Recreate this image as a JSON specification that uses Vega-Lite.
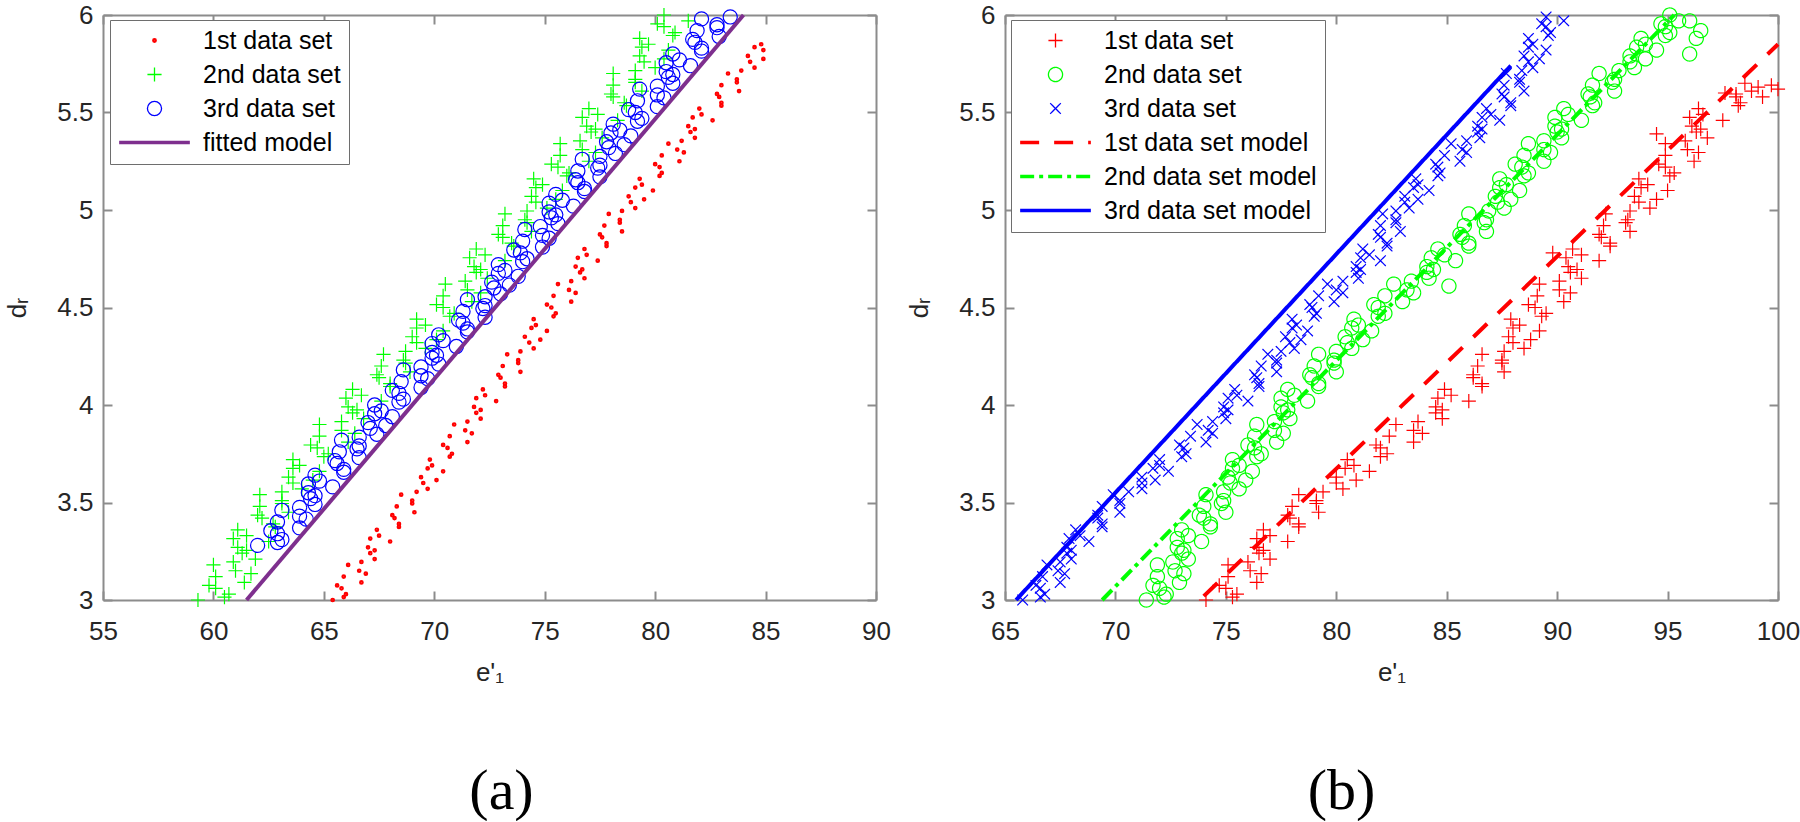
{
  "$schema": "https://vega.github.io/schema/vega-lite/v6.json",
  "background": "white",
  "padding": {"left": 4, "top": 2, "right": 0, "bottom": 0},
  "spacing": 129,
  "bounds": "flush",
  "resolve": {
    "scale": {"x": "independent", "y": "independent", "color": "independent", "shape": "independent", "strokeDash": "independent"},
    "legend": {"color": "independent", "shape": "independent", "strokeDash": "independent"}
  },
  "datasets": {
    "ap": [
      {"s":"1","x":65.4,"y":3.00},{"s":"1","x":66.0,"y":3.03},{"s":"1","x":65.8,"y":3.06},{"s":"1","x":66.7,"y":3.09},{"s":"1","x":65.9,"y":3.12},{"s":"1","x":66.6,"y":3.15},{"s":"1","x":66.1,"y":3.18},{"s":"1","x":67.3,"y":3.21},{"s":"1","x":67.1,"y":3.24},{"s":"1","x":67.0,"y":3.27},{"s":"1","x":68.0,"y":3.30},{"s":"1","x":67.5,"y":3.33},{"s":"1","x":67.4,"y":3.36},{"s":"1","x":68.4,"y":3.39},{"s":"1","x":68.2,"y":3.42},{"s":"1","x":69.1,"y":3.45},{"s":"1","x":68.3,"y":3.48},{"s":"1","x":69.0,"y":3.51},{"s":"1","x":68.5,"y":3.54},{"s":"1","x":69.7,"y":3.57},{"s":"1","x":69.5,"y":3.60},{"s":"1","x":69.4,"y":3.63},{"s":"1","x":70.4,"y":3.66},{"s":"1","x":69.9,"y":3.69},{"s":"1","x":69.8,"y":3.72},{"s":"1","x":70.8,"y":3.75},{"s":"1","x":70.6,"y":3.78},{"s":"1","x":71.5,"y":3.81},{"s":"1","x":70.7,"y":3.84},{"s":"1","x":71.4,"y":3.87},{"s":"1","x":70.9,"y":3.90},{"s":"1","x":72.1,"y":3.93},{"s":"1","x":71.9,"y":3.96},{"s":"1","x":71.8,"y":3.99},{"s":"1","x":72.8,"y":4.02},{"s":"1","x":72.3,"y":4.05},{"s":"1","x":72.2,"y":4.08},{"s":"1","x":73.2,"y":4.11},{"s":"1","x":73.0,"y":4.14},{"s":"1","x":73.9,"y":4.17},{"s":"1","x":73.1,"y":4.20},{"s":"1","x":73.8,"y":4.23},{"s":"1","x":73.3,"y":4.26},{"s":"1","x":74.5,"y":4.29},{"s":"1","x":74.3,"y":4.32},{"s":"1","x":74.1,"y":4.35},{"s":"1","x":75.1,"y":4.38},{"s":"1","x":74.6,"y":4.41},{"s":"1","x":74.5,"y":4.44},{"s":"1","x":75.5,"y":4.47},{"s":"1","x":75.3,"y":4.50},{"s":"1","x":76.2,"y":4.53},{"s":"1","x":75.4,"y":4.56},{"s":"1","x":76.1,"y":4.59},{"s":"1","x":75.6,"y":4.62},{"s":"1","x":76.8,"y":4.65},{"s":"1","x":76.6,"y":4.68},{"s":"1","x":76.4,"y":4.71},{"s":"1","x":77.4,"y":4.74},{"s":"1","x":76.9,"y":4.77},{"s":"1","x":76.8,"y":4.80},{"s":"1","x":77.8,"y":4.83},{"s":"1","x":77.6,"y":4.86},{"s":"1","x":78.5,"y":4.89},{"s":"1","x":77.7,"y":4.92},{"s":"1","x":78.4,"y":4.95},{"s":"1","x":77.9,"y":4.98},{"s":"1","x":79.1,"y":5.01},{"s":"1","x":78.9,"y":5.04},{"s":"1","x":78.8,"y":5.07},{"s":"1","x":79.9,"y":5.10},{"s":"1","x":79.4,"y":5.13},{"s":"1","x":79.3,"y":5.16},{"s":"1","x":80.3,"y":5.19},{"s":"1","x":80.2,"y":5.22},{"s":"1","x":81.1,"y":5.25},{"s":"1","x":80.3,"y":5.28},{"s":"1","x":81.0,"y":5.31},{"s":"1","x":80.6,"y":5.34},{"s":"1","x":81.8,"y":5.37},{"s":"1","x":81.6,"y":5.40},{"s":"1","x":81.5,"y":5.43},{"s":"1","x":82.6,"y":5.46},{"s":"1","x":82.1,"y":5.49},{"s":"1","x":82.0,"y":5.52},{"s":"1","x":83.0,"y":5.55},{"s":"1","x":82.9,"y":5.58},{"s":"1","x":83.8,"y":5.61},{"s":"1","x":83.0,"y":5.64},{"s":"1","x":83.7,"y":5.67},{"s":"1","x":83.3,"y":5.70},{"s":"1","x":84.5,"y":5.73},{"s":"1","x":84.3,"y":5.76},{"s":"1","x":84.2,"y":5.79},{"s":"1","x":84.9,"y":5.82},{"s":"1","x":84.8,"y":5.85},
      {"s":"1","x":65.9,"y":3.015},{"s":"1","x":65.6,"y":3.075},{"s":"1","x":66.9,"y":3.135},{"s":"1","x":66.7,"y":3.195},{"s":"1","x":67.3,"y":3.255},{"s":"1","x":67.1,"y":3.315},{"s":"1","x":68.4,"y":3.375},{"s":"1","x":68.1,"y":3.435},{"s":"1","x":69.0,"y":3.495},{"s":"1","x":69.2,"y":3.555},{"s":"1","x":70.1,"y":3.615},{"s":"1","x":69.7,"y":3.675},{"s":"1","x":70.7,"y":3.735},{"s":"1","x":70.4,"y":3.795},{"s":"1","x":71.7,"y":3.855},{"s":"1","x":71.5,"y":3.915},{"s":"1","x":72.1,"y":3.975},{"s":"1","x":71.9,"y":4.035},{"s":"1","x":73.2,"y":4.095},{"s":"1","x":72.9,"y":4.155},{"s":"1","x":73.8,"y":4.215},{"s":"1","x":73.9,"y":4.275},{"s":"1","x":74.8,"y":4.335},{"s":"1","x":74.4,"y":4.395},{"s":"1","x":75.4,"y":4.455},{"s":"1","x":75.1,"y":4.515},{"s":"1","x":76.4,"y":4.575},{"s":"1","x":76.2,"y":4.635},{"s":"1","x":76.7,"y":4.695},{"s":"1","x":76.5,"y":4.755},{"s":"1","x":77.8,"y":4.815},{"s":"1","x":77.5,"y":4.875},{"s":"1","x":78.4,"y":4.935},{"s":"1","x":78.5,"y":4.995},{"s":"1","x":79.5,"y":5.055},{"s":"1","x":79.1,"y":5.115},{"s":"1","x":80.2,"y":5.175},{"s":"1","x":80.0,"y":5.235},{"s":"1","x":81.3,"y":5.295},{"s":"1","x":81.2,"y":5.355},{"s":"1","x":81.8,"y":5.415},{"s":"1","x":81.7,"y":5.475},{"s":"1","x":83.0,"y":5.535},{"s":"1","x":82.8,"y":5.595},{"s":"1","x":83.7,"y":5.655},{"s":"1","x":83.9,"y":5.715},{"s":"1","x":84.9,"y":5.775},{"s":"1","x":84.5,"y":5.835},
      {"s":"2","x":59.3,"y":3.00},{"s":"2","x":60.7,"y":3.03},{"s":"2","x":60.1,"y":3.06},{"s":"2","x":61.4,"y":3.09},{"s":"2","x":60.1,"y":3.12},{"s":"2","x":61.0,"y":3.15},{"s":"2","x":60.0,"y":3.18},{"s":"2","x":61.9,"y":3.21},{"s":"2","x":61.3,"y":3.24},{"s":"2","x":61.1,"y":3.27},{"s":"2","x":62.5,"y":3.30},{"s":"2","x":61.5,"y":3.33},{"s":"2","x":61.1,"y":3.36},{"s":"2","x":62.7,"y":3.39},{"s":"2","x":62.2,"y":3.42},{"s":"2","x":63.4,"y":3.45},{"s":"2","x":62.1,"y":3.48},{"s":"2","x":63.1,"y":3.51},{"s":"2","x":62.1,"y":3.54},{"s":"2","x":64.0,"y":3.57},{"s":"2","x":63.6,"y":3.60},{"s":"2","x":63.4,"y":3.63},{"s":"2","x":64.8,"y":3.66},{"s":"2","x":63.9,"y":3.69},{"s":"2","x":63.6,"y":3.72},{"s":"2","x":65.2,"y":3.75},{"s":"2","x":64.7,"y":3.78},{"s":"2","x":66.1,"y":3.81},{"s":"2","x":64.8,"y":3.84},{"s":"2","x":65.8,"y":3.87},{"s":"2","x":64.8,"y":3.90},{"s":"2","x":66.8,"y":3.93},{"s":"2","x":66.3,"y":3.96},{"s":"2","x":66.1,"y":3.99},{"s":"2","x":67.6,"y":4.02},{"s":"2","x":66.7,"y":4.05},{"s":"2","x":66.3,"y":4.08},{"s":"2","x":68.0,"y":4.11},{"s":"2","x":67.5,"y":4.14},{"s":"2","x":68.9,"y":4.17},{"s":"2","x":67.6,"y":4.20},{"s":"2","x":68.6,"y":4.23},{"s":"2","x":67.7,"y":4.26},{"s":"2","x":69.6,"y":4.29},{"s":"2","x":69.2,"y":4.32},{"s":"2","x":69.0,"y":4.35},{"s":"2","x":70.4,"y":4.38},{"s":"2","x":69.6,"y":4.41},{"s":"2","x":69.2,"y":4.44},{"s":"2","x":70.9,"y":4.47},{"s":"2","x":70.4,"y":4.50},{"s":"2","x":71.7,"y":4.53},{"s":"2","x":70.4,"y":4.56},{"s":"2","x":71.5,"y":4.59},{"s":"2","x":70.5,"y":4.62},{"s":"2","x":72.4,"y":4.65},{"s":"2","x":71.9,"y":4.68},{"s":"2","x":71.8,"y":4.71},{"s":"2","x":73.2,"y":4.74},{"s":"2","x":72.3,"y":4.77},{"s":"2","x":71.9,"y":4.80},{"s":"2","x":73.5,"y":4.83},{"s":"2","x":73.1,"y":4.86},{"s":"2","x":74.4,"y":4.89},{"s":"2","x":73.1,"y":4.92},{"s":"2","x":74.1,"y":4.95},{"s":"2","x":73.2,"y":4.98},{"s":"2","x":75.1,"y":5.01},{"s":"2","x":74.6,"y":5.04},{"s":"2","x":74.4,"y":5.07},{"s":"2","x":75.8,"y":5.10},{"s":"2","x":74.9,"y":5.13},{"s":"2","x":74.5,"y":5.16},{"s":"2","x":76.1,"y":5.19},{"s":"2","x":75.6,"y":5.22},{"s":"2","x":77.0,"y":5.25},{"s":"2","x":75.7,"y":5.28},{"s":"2","x":76.7,"y":5.31},{"s":"2","x":75.7,"y":5.34},{"s":"2","x":77.6,"y":5.37},{"s":"2","x":77.1,"y":5.40},{"s":"2","x":76.9,"y":5.43},{"s":"2","x":78.3,"y":5.46},{"s":"2","x":77.4,"y":5.49},{"s":"2","x":77.0,"y":5.52},{"s":"2","x":78.6,"y":5.55},{"s":"2","x":78.1,"y":5.58},{"s":"2","x":79.4,"y":5.61},{"s":"2","x":78.1,"y":5.64},{"s":"2","x":79.1,"y":5.67},{"s":"2","x":78.1,"y":5.70},{"s":"2","x":80.0,"y":5.73},{"s":"2","x":79.5,"y":5.76},{"s":"2","x":79.3,"y":5.79},{"s":"2","x":80.6,"y":5.82},{"s":"2","x":79.7,"y":5.85},{"s":"2","x":79.3,"y":5.88},{"s":"2","x":80.9,"y":5.91},{"s":"2","x":80.4,"y":5.94},{"s":"2","x":81.5,"y":5.97},{"s":"2","x":80.4,"y":6.00},
      {"s":"2","x":60.5,"y":3.015},{"s":"2","x":59.8,"y":3.075},{"s":"2","x":61.7,"y":3.135},{"s":"2","x":60.9,"y":3.195},{"s":"2","x":61.5,"y":3.255},{"s":"2","x":60.9,"y":3.315},{"s":"2","x":62.8,"y":3.375},{"s":"2","x":62.0,"y":3.435},{"s":"2","x":63.1,"y":3.495},{"s":"2","x":63.1,"y":3.555},{"s":"2","x":64.5,"y":3.615},{"s":"2","x":63.6,"y":3.675},{"s":"2","x":65.0,"y":3.735},{"s":"2","x":64.4,"y":3.795},{"s":"2","x":66.4,"y":3.855},{"s":"2","x":65.8,"y":3.915},{"s":"2","x":66.5,"y":3.975},{"s":"2","x":66.0,"y":4.035},{"s":"2","x":68.0,"y":4.095},{"s":"2","x":67.4,"y":4.155},{"s":"2","x":68.7,"y":4.215},{"s":"2","x":68.7,"y":4.275},{"s":"2","x":70.1,"y":4.335},{"s":"2","x":69.2,"y":4.395},{"s":"2","x":70.7,"y":4.455},{"s":"2","x":70.1,"y":4.515},{"s":"2","x":72.1,"y":4.575},{"s":"2","x":71.4,"y":4.635},{"s":"2","x":72.1,"y":4.695},{"s":"2","x":71.6,"y":4.755},{"s":"2","x":73.6,"y":4.815},{"s":"2","x":72.9,"y":4.875},{"s":"2","x":74.2,"y":4.935},{"s":"2","x":74.2,"y":4.995},{"s":"2","x":75.5,"y":5.055},{"s":"2","x":74.6,"y":5.115},{"s":"2","x":76.0,"y":5.175},{"s":"2","x":75.3,"y":5.235},{"s":"2","x":77.3,"y":5.295},{"s":"2","x":76.6,"y":5.355},{"s":"2","x":77.3,"y":5.415},{"s":"2","x":76.7,"y":5.475},{"s":"2","x":78.7,"y":5.535},{"s":"2","x":78.0,"y":5.595},{"s":"2","x":79.1,"y":5.655},{"s":"2","x":79.1,"y":5.715},{"s":"2","x":80.4,"y":5.775},{"s":"2","x":79.4,"y":5.835},{"s":"2","x":80.8,"y":5.895},{"s":"2","x":80.1,"y":5.955},
      {"s":"3","x":62.0,"y":3.28},{"s":"3","x":63.1,"y":3.31},{"s":"3","x":62.9,"y":3.34},{"s":"3","x":63.9,"y":3.37},{"s":"3","x":62.9,"y":3.40},{"s":"3","x":63.9,"y":3.43},{"s":"3","x":63.1,"y":3.46},{"s":"3","x":64.6,"y":3.49},{"s":"3","x":64.4,"y":3.52},{"s":"3","x":64.3,"y":3.55},{"s":"3","x":65.4,"y":3.58},{"s":"3","x":64.8,"y":3.61},{"s":"3","x":64.6,"y":3.64},{"s":"3","x":65.9,"y":3.67},{"s":"3","x":65.6,"y":3.70},{"s":"3","x":66.6,"y":3.73},{"s":"3","x":65.7,"y":3.76},{"s":"3","x":66.6,"y":3.79},{"s":"3","x":65.8,"y":3.82},{"s":"3","x":67.4,"y":3.85},{"s":"3","x":67.1,"y":3.88},{"s":"3","x":67.0,"y":3.91},{"s":"3","x":68.1,"y":3.94},{"s":"3","x":67.6,"y":3.97},{"s":"3","x":67.3,"y":4.00},{"s":"3","x":68.6,"y":4.03},{"s":"3","x":68.4,"y":4.06},{"s":"3","x":69.4,"y":4.09},{"s":"3","x":68.5,"y":4.12},{"s":"3","x":69.4,"y":4.15},{"s":"3","x":68.6,"y":4.18},{"s":"3","x":70.2,"y":4.21},{"s":"3","x":69.9,"y":4.24},{"s":"3","x":69.9,"y":4.27},{"s":"3","x":71.0,"y":4.30},{"s":"3","x":70.4,"y":4.33},{"s":"3","x":70.2,"y":4.36},{"s":"3","x":71.5,"y":4.39},{"s":"3","x":71.3,"y":4.42},{"s":"3","x":72.3,"y":4.45},{"s":"3","x":71.3,"y":4.48},{"s":"3","x":72.3,"y":4.51},{"s":"3","x":71.5,"y":4.54},{"s":"3","x":73.0,"y":4.57},{"s":"3","x":72.7,"y":4.60},{"s":"3","x":72.6,"y":4.63},{"s":"3","x":73.8,"y":4.66},{"s":"3","x":73.2,"y":4.69},{"s":"3","x":72.9,"y":4.72},{"s":"3","x":74.2,"y":4.75},{"s":"3","x":73.9,"y":4.78},{"s":"3","x":74.9,"y":4.81},{"s":"3","x":74.0,"y":4.84},{"s":"3","x":74.9,"y":4.87},{"s":"3","x":74.1,"y":4.90},{"s":"3","x":75.6,"y":4.93},{"s":"3","x":75.3,"y":4.96},{"s":"3","x":75.2,"y":4.99},{"s":"3","x":76.3,"y":5.02},{"s":"3","x":75.8,"y":5.05},{"s":"3","x":75.5,"y":5.08},{"s":"3","x":76.8,"y":5.11},{"s":"3","x":76.5,"y":5.14},{"s":"3","x":77.5,"y":5.17},{"s":"3","x":76.5,"y":5.20},{"s":"3","x":77.5,"y":5.23},{"s":"3","x":76.7,"y":5.26},{"s":"3","x":78.2,"y":5.29},{"s":"3","x":77.9,"y":5.32},{"s":"3","x":77.8,"y":5.35},{"s":"3","x":78.9,"y":5.38},{"s":"3","x":78.4,"y":5.41},{"s":"3","x":78.1,"y":5.44},{"s":"3","x":79.4,"y":5.47},{"s":"3","x":79.1,"y":5.50},{"s":"3","x":80.1,"y":5.53},{"s":"3","x":79.2,"y":5.56},{"s":"3","x":80.1,"y":5.59},{"s":"3","x":79.3,"y":5.62},{"s":"3","x":80.8,"y":5.65},{"s":"3","x":80.6,"y":5.68},{"s":"3","x":80.5,"y":5.71},{"s":"3","x":81.6,"y":5.74},{"s":"3","x":81.1,"y":5.77},{"s":"3","x":80.8,"y":5.80},{"s":"3","x":82.1,"y":5.83},{"s":"3","x":81.8,"y":5.86},{"s":"3","x":82.9,"y":5.89},{"s":"3","x":81.9,"y":5.92},{"s":"3","x":82.8,"y":5.95},{"s":"3","x":82.1,"y":5.98},{"s":"3","x":83.4,"y":5.99},
      {"s":"3","x":62.9,"y":3.295},{"s":"3","x":62.6,"y":3.355},{"s":"3","x":64.2,"y":3.415},{"s":"3","x":63.9,"y":3.475},{"s":"3","x":64.6,"y":3.535},{"s":"3","x":64.3,"y":3.595},{"s":"3","x":65.9,"y":3.655},{"s":"3","x":65.5,"y":3.715},{"s":"3","x":66.5,"y":3.775},{"s":"3","x":66.6,"y":3.835},{"s":"3","x":67.8,"y":3.895},{"s":"3","x":67.3,"y":3.955},{"s":"3","x":68.4,"y":4.015},{"s":"3","x":68.1,"y":4.075},{"s":"3","x":69.7,"y":4.135},{"s":"3","x":69.4,"y":4.195},{"s":"3","x":70.1,"y":4.255},{"s":"3","x":69.9,"y":4.315},{"s":"3","x":71.5,"y":4.375},{"s":"3","x":71.1,"y":4.435},{"s":"3","x":72.2,"y":4.495},{"s":"3","x":72.3,"y":4.555},{"s":"3","x":73.4,"y":4.615},{"s":"3","x":72.9,"y":4.675},{"s":"3","x":74.0,"y":4.735},{"s":"3","x":73.6,"y":4.795},{"s":"3","x":75.2,"y":4.855},{"s":"3","x":74.8,"y":4.915},{"s":"3","x":75.5,"y":4.975},{"s":"3","x":75.2,"y":5.035},{"s":"3","x":76.8,"y":5.095},{"s":"3","x":76.4,"y":5.155},{"s":"3","x":77.4,"y":5.215},{"s":"3","x":77.5,"y":5.275},{"s":"3","x":78.6,"y":5.335},{"s":"3","x":78.0,"y":5.395},{"s":"3","x":79.2,"y":5.455},{"s":"3","x":78.8,"y":5.515},{"s":"3","x":80.4,"y":5.575},{"s":"3","x":80.1,"y":5.635},{"s":"3","x":80.8,"y":5.695},{"s":"3","x":80.5,"y":5.755},{"s":"3","x":82.1,"y":5.815},{"s":"3","x":81.7,"y":5.875},{"s":"3","x":82.8,"y":5.935}
    ],
    "af": [
      {"s":"m","x":61.5,"y":3.0},{"s":"m","x":84.0,"y":6.0}
    ],
    "bp": [
      {"s":"1","x":74.1,"y":3.00},{"s":"1","x":75.5,"y":3.03},{"s":"1","x":75.0,"y":3.06},{"s":"1","x":76.4,"y":3.09},{"s":"1","x":75.1,"y":3.12},{"s":"1","x":76.1,"y":3.15},{"s":"1","x":75.1,"y":3.18},{"s":"1","x":77.0,"y":3.21},{"s":"1","x":76.5,"y":3.24},{"s":"1","x":76.4,"y":3.27},{"s":"1","x":77.8,"y":3.30},{"s":"1","x":77.0,"y":3.33},{"s":"1","x":76.7,"y":3.36},{"s":"1","x":78.3,"y":3.39},{"s":"1","x":77.9,"y":3.42},{"s":"1","x":79.2,"y":3.45},{"s":"1","x":78.0,"y":3.48},{"s":"1","x":79.1,"y":3.51},{"s":"1","x":78.3,"y":3.54},{"s":"1","x":80.3,"y":3.57},{"s":"1","x":80.0,"y":3.60},{"s":"1","x":80.0,"y":3.63},{"s":"1","x":81.5,"y":3.66},{"s":"1","x":80.8,"y":3.69},{"s":"1","x":80.5,"y":3.72},{"s":"1","x":82.3,"y":3.75},{"s":"1","x":82.0,"y":3.78},{"s":"1","x":83.5,"y":3.81},{"s":"1","x":82.4,"y":3.84},{"s":"1","x":83.5,"y":3.87},{"s":"1","x":82.7,"y":3.90},{"s":"1","x":84.8,"y":3.93},{"s":"1","x":84.5,"y":3.96},{"s":"1","x":84.5,"y":3.99},{"s":"1","x":86.0,"y":4.02},{"s":"1","x":85.2,"y":4.05},{"s":"1","x":84.9,"y":4.08},{"s":"1","x":86.6,"y":4.11},{"s":"1","x":86.2,"y":4.14},{"s":"1","x":87.6,"y":4.17},{"s":"1","x":86.4,"y":4.20},{"s":"1","x":87.5,"y":4.23},{"s":"1","x":86.6,"y":4.26},{"s":"1","x":88.5,"y":4.29},{"s":"1","x":88.0,"y":4.32},{"s":"1","x":87.8,"y":4.35},{"s":"1","x":89.2,"y":4.38},{"s":"1","x":88.3,"y":4.41},{"s":"1","x":87.9,"y":4.44},{"s":"1","x":89.5,"y":4.47},{"s":"1","x":89.0,"y":4.50},{"s":"1","x":90.3,"y":4.53},{"s":"1","x":89.1,"y":4.56},{"s":"1","x":90.1,"y":4.59},{"s":"1","x":89.2,"y":4.62},{"s":"1","x":91.1,"y":4.65},{"s":"1","x":90.6,"y":4.68},{"s":"1","x":90.5,"y":4.71},{"s":"1","x":91.9,"y":4.74},{"s":"1","x":91.1,"y":4.77},{"s":"1","x":90.7,"y":4.80},{"s":"1","x":92.4,"y":4.83},{"s":"1","x":92.0,"y":4.86},{"s":"1","x":93.3,"y":4.89},{"s":"1","x":92.1,"y":4.92},{"s":"1","x":93.2,"y":4.95},{"s":"1","x":92.2,"y":4.98},{"s":"1","x":94.2,"y":5.01},{"s":"1","x":93.7,"y":5.04},{"s":"1","x":93.5,"y":5.07},{"s":"1","x":95.0,"y":5.10},{"s":"1","x":94.1,"y":5.13},{"s":"1","x":93.7,"y":5.16},{"s":"1","x":95.3,"y":5.19},{"s":"1","x":94.9,"y":5.22},{"s":"1","x":96.2,"y":5.25},{"s":"1","x":94.9,"y":5.28},{"s":"1","x":95.9,"y":5.31},{"s":"1","x":94.9,"y":5.34},{"s":"1","x":96.8,"y":5.37},{"s":"1","x":96.3,"y":5.40},{"s":"1","x":96.1,"y":5.43},{"s":"1","x":97.5,"y":5.46},{"s":"1","x":96.6,"y":5.49},{"s":"1","x":96.4,"y":5.52},{"s":"1","x":98.3,"y":5.55},{"s":"1","x":98.1,"y":5.58},{"s":"1","x":98.8,"y":5.61},{"s":"1","x":99.3,"y":5.58},{"s":"1","x":99.7,"y":5.64},{"s":"1","x":99.1,"y":5.63},{"s":"1","x":98.5,"y":5.65},{"s":"1","x":100.0,"y":5.62},{"s":"1","x":97.6,"y":5.60},{"s":"1","x":89.8,"y":4.78},{"s":"1","x":94.5,"y":5.39},
      {"s":"1","x":75.3,"y":3.015},{"s":"1","x":74.7,"y":3.075},{"s":"1","x":76.6,"y":3.135},{"s":"1","x":76.0,"y":3.195},{"s":"1","x":76.7,"y":3.255},{"s":"1","x":76.4,"y":3.315},{"s":"1","x":78.3,"y":3.375},{"s":"1","x":77.8,"y":3.435},{"s":"1","x":79.1,"y":3.495},{"s":"1","x":79.4,"y":3.555},{"s":"1","x":80.9,"y":3.615},{"s":"1","x":80.4,"y":3.675},{"s":"1","x":82.0,"y":3.735},{"s":"1","x":81.8,"y":3.795},{"s":"1","x":83.9,"y":3.855},{"s":"1","x":83.7,"y":3.915},{"s":"1","x":84.8,"y":3.975},{"s":"1","x":84.6,"y":4.035},{"s":"1","x":86.6,"y":4.095},{"s":"1","x":86.2,"y":4.155},{"s":"1","x":87.5,"y":4.215},{"s":"1","x":87.6,"y":4.275},{"s":"1","x":88.8,"y":4.335},{"s":"1","x":88.0,"y":4.395},{"s":"1","x":89.3,"y":4.455},{"s":"1","x":88.7,"y":4.515},{"s":"1","x":90.6,"y":4.575},{"s":"1","x":90.1,"y":4.635},{"s":"1","x":90.9,"y":4.695},{"s":"1","x":90.4,"y":4.755},{"s":"1","x":92.4,"y":4.815},{"s":"1","x":91.9,"y":4.875},{"s":"1","x":93.1,"y":4.935},{"s":"1","x":93.3,"y":4.995},{"s":"1","x":94.5,"y":5.055},{"s":"1","x":93.8,"y":5.115},{"s":"1","x":95.1,"y":5.175},{"s":"1","x":94.6,"y":5.235},{"s":"1","x":96.4,"y":5.295},{"s":"1","x":95.8,"y":5.355},{"s":"1","x":96.5,"y":5.415},{"s":"1","x":96.0,"y":5.475},{"s":"1","x":98.2,"y":5.535},{"s":"1","x":98.1,"y":5.595},
      {"s":"2","x":71.4,"y":3.00},{"s":"2","x":72.3,"y":3.03},{"s":"2","x":72.0,"y":3.06},{"s":"2","x":72.9,"y":3.09},{"s":"2","x":71.9,"y":3.12},{"s":"2","x":72.7,"y":3.15},{"s":"2","x":71.9,"y":3.18},{"s":"2","x":73.3,"y":3.21},{"s":"2","x":73.0,"y":3.24},{"s":"2","x":72.8,"y":3.27},{"s":"2","x":73.9,"y":3.30},{"s":"2","x":73.3,"y":3.33},{"s":"2","x":73.0,"y":3.36},{"s":"2","x":74.3,"y":3.39},{"s":"2","x":74.0,"y":3.42},{"s":"2","x":75.0,"y":3.45},{"s":"2","x":74.0,"y":3.48},{"s":"2","x":74.9,"y":3.51},{"s":"2","x":74.1,"y":3.54},{"s":"2","x":75.6,"y":3.57},{"s":"2","x":75.2,"y":3.60},{"s":"2","x":75.1,"y":3.63},{"s":"2","x":76.2,"y":3.66},{"s":"2","x":75.6,"y":3.69},{"s":"2","x":75.3,"y":3.72},{"s":"2","x":76.6,"y":3.75},{"s":"2","x":76.3,"y":3.78},{"s":"2","x":77.3,"y":3.81},{"s":"2","x":76.3,"y":3.84},{"s":"2","x":77.2,"y":3.87},{"s":"2","x":76.4,"y":3.90},{"s":"2","x":77.9,"y":3.93},{"s":"2","x":77.6,"y":3.96},{"s":"2","x":77.5,"y":3.99},{"s":"2","x":78.7,"y":4.02},{"s":"2","x":78.1,"y":4.05},{"s":"2","x":77.8,"y":4.08},{"s":"2","x":79.2,"y":4.11},{"s":"2","x":78.9,"y":4.14},{"s":"2","x":80.0,"y":4.17},{"s":"2","x":79.0,"y":4.20},{"s":"2","x":79.9,"y":4.23},{"s":"2","x":79.2,"y":4.26},{"s":"2","x":80.7,"y":4.29},{"s":"2","x":80.5,"y":4.32},{"s":"2","x":80.4,"y":4.35},{"s":"2","x":81.6,"y":4.38},{"s":"2","x":81.0,"y":4.41},{"s":"2","x":80.8,"y":4.44},{"s":"2","x":82.2,"y":4.47},{"s":"2","x":81.9,"y":4.50},{"s":"2","x":83.0,"y":4.53},{"s":"2","x":82.2,"y":4.56},{"s":"2","x":83.2,"y":4.59},{"s":"2","x":82.6,"y":4.62},{"s":"2","x":84.2,"y":4.65},{"s":"2","x":84.1,"y":4.68},{"s":"2","x":84.1,"y":4.71},{"s":"2","x":85.4,"y":4.74},{"s":"2","x":84.9,"y":4.77},{"s":"2","x":84.6,"y":4.80},{"s":"2","x":86.0,"y":4.83},{"s":"2","x":85.7,"y":4.86},{"s":"2","x":86.8,"y":4.89},{"s":"2","x":85.8,"y":4.92},{"s":"2","x":86.8,"y":4.95},{"s":"2","x":86.0,"y":4.98},{"s":"2","x":87.6,"y":5.01},{"s":"2","x":87.3,"y":5.04},{"s":"2","x":87.2,"y":5.07},{"s":"2","x":88.3,"y":5.10},{"s":"2","x":87.7,"y":5.13},{"s":"2","x":87.4,"y":5.16},{"s":"2","x":88.7,"y":5.19},{"s":"2","x":88.4,"y":5.22},{"s":"2","x":89.4,"y":5.25},{"s":"2","x":88.5,"y":5.28},{"s":"2","x":89.4,"y":5.31},{"s":"2","x":88.7,"y":5.34},{"s":"2","x":90.2,"y":5.37},{"s":"2","x":90.0,"y":5.40},{"s":"2","x":89.9,"y":5.43},{"s":"2","x":91.1,"y":5.46},{"s":"2","x":90.5,"y":5.49},{"s":"2","x":90.3,"y":5.52},{"s":"2","x":91.7,"y":5.55},{"s":"2","x":91.5,"y":5.58},{"s":"2","x":92.6,"y":5.61},{"s":"2","x":91.6,"y":5.64},{"s":"2","x":92.6,"y":5.67},{"s":"2","x":91.9,"y":5.70},{"s":"2","x":93.5,"y":5.73},{"s":"2","x":93.3,"y":5.76},{"s":"2","x":93.3,"y":5.79},{"s":"2","x":94.5,"y":5.82},{"s":"2","x":94.0,"y":5.85},{"s":"2","x":93.8,"y":5.88},{"s":"2","x":95.1,"y":5.91},{"s":"2","x":94.9,"y":5.94},{"s":"2","x":96.0,"y":5.97},{"s":"2","x":95.1,"y":6.00},{"s":"2","x":96.3,"y":5.88},{"s":"2","x":95.5,"y":5.97},{"s":"2","x":96.0,"y":5.80},{"s":"2","x":96.5,"y":5.92},{"s":"2","x":85.1,"y":4.61},
      {"s":"2","x":72.2,"y":3.015},{"s":"2","x":71.7,"y":3.075},{"s":"2","x":73.1,"y":3.135},{"s":"2","x":72.6,"y":3.195},{"s":"2","x":73.1,"y":3.255},{"s":"2","x":72.8,"y":3.315},{"s":"2","x":74.3,"y":3.375},{"s":"2","x":73.8,"y":3.435},{"s":"2","x":74.8,"y":3.495},{"s":"2","x":74.9,"y":3.555},{"s":"2","x":75.9,"y":3.615},{"s":"2","x":75.3,"y":3.675},{"s":"2","x":76.4,"y":3.735},{"s":"2","x":76.0,"y":3.795},{"s":"2","x":77.6,"y":3.855},{"s":"2","x":77.2,"y":3.915},{"s":"2","x":77.8,"y":3.975},{"s":"2","x":77.5,"y":4.035},{"s":"2","x":79.2,"y":4.095},{"s":"2","x":78.8,"y":4.155},{"s":"2","x":79.9,"y":4.215},{"s":"2","x":80.0,"y":4.275},{"s":"2","x":81.2,"y":4.335},{"s":"2","x":80.7,"y":4.395},{"s":"2","x":81.9,"y":4.455},{"s":"2","x":81.7,"y":4.515},{"s":"2","x":83.5,"y":4.575},{"s":"2","x":83.4,"y":4.635},{"s":"2","x":84.4,"y":4.695},{"s":"2","x":84.3,"y":4.755},{"s":"2","x":86.0,"y":4.815},{"s":"2","x":85.6,"y":4.875},{"s":"2","x":86.7,"y":4.935},{"s":"2","x":86.9,"y":4.995},{"s":"2","x":87.9,"y":5.055},{"s":"2","x":87.4,"y":5.115},{"s":"2","x":88.5,"y":5.175},{"s":"2","x":88.1,"y":5.235},{"s":"2","x":89.7,"y":5.295},{"s":"2","x":89.4,"y":5.355},{"s":"2","x":90.2,"y":5.415},{"s":"2","x":89.9,"y":5.475},{"s":"2","x":91.6,"y":5.535},{"s":"2","x":91.4,"y":5.595},{"s":"2","x":92.5,"y":5.655},{"s":"2","x":92.8,"y":5.715},{"s":"2","x":94.0,"y":5.775},{"s":"2","x":93.6,"y":5.835},{"s":"2","x":94.9,"y":5.895},{"s":"2","x":94.7,"y":5.955},
      {"s":"3","x":65.8,"y":3.00},{"s":"3","x":66.8,"y":3.03},{"s":"3","x":66.6,"y":3.06},{"s":"3","x":67.5,"y":3.09},{"s":"3","x":66.7,"y":3.12},{"s":"3","x":67.4,"y":3.15},{"s":"3","x":66.9,"y":3.18},{"s":"3","x":68.0,"y":3.21},{"s":"3","x":67.8,"y":3.24},{"s":"3","x":67.8,"y":3.27},{"s":"3","x":68.8,"y":3.30},{"s":"3","x":68.4,"y":3.33},{"s":"3","x":68.2,"y":3.36},{"s":"3","x":69.4,"y":3.39},{"s":"3","x":69.2,"y":3.42},{"s":"3","x":70.2,"y":3.45},{"s":"3","x":69.4,"y":3.48},{"s":"3","x":70.2,"y":3.51},{"s":"3","x":69.9,"y":3.54},{"s":"3","x":71.2,"y":3.57},{"s":"3","x":71.2,"y":3.60},{"s":"3","x":71.2,"y":3.63},{"s":"3","x":72.4,"y":3.66},{"s":"3","x":72.0,"y":3.69},{"s":"3","x":72.0,"y":3.72},{"s":"3","x":73.2,"y":3.75},{"s":"3","x":73.1,"y":3.78},{"s":"3","x":74.1,"y":3.81},{"s":"3","x":73.4,"y":3.84},{"s":"3","x":74.2,"y":3.87},{"s":"3","x":73.7,"y":3.90},{"s":"3","x":75.0,"y":3.93},{"s":"3","x":74.9,"y":3.96},{"s":"3","x":74.9,"y":3.99},{"s":"3","x":76.0,"y":4.02},{"s":"3","x":75.5,"y":4.05},{"s":"3","x":75.4,"y":4.08},{"s":"3","x":76.5,"y":4.11},{"s":"3","x":76.4,"y":4.14},{"s":"3","x":77.3,"y":4.17},{"s":"3","x":76.6,"y":4.20},{"s":"3","x":77.3,"y":4.23},{"s":"3","x":76.9,"y":4.26},{"s":"3","x":78.1,"y":4.29},{"s":"3","x":77.9,"y":4.32},{"s":"3","x":77.7,"y":4.35},{"s":"3","x":78.7,"y":4.38},{"s":"3","x":78.2,"y":4.41},{"s":"3","x":78.0,"y":4.44},{"s":"3","x":79.1,"y":4.47},{"s":"3","x":78.9,"y":4.50},{"s":"3","x":79.9,"y":4.53},{"s":"3","x":79.2,"y":4.56},{"s":"3","x":80.0,"y":4.59},{"s":"3","x":79.6,"y":4.62},{"s":"3","x":81.0,"y":4.65},{"s":"3","x":80.9,"y":4.68},{"s":"3","x":80.9,"y":4.71},{"s":"3","x":82.0,"y":4.74},{"s":"3","x":81.5,"y":4.77},{"s":"3","x":81.2,"y":4.80},{"s":"3","x":82.3,"y":4.83},{"s":"3","x":82.0,"y":4.86},{"s":"3","x":82.9,"y":4.89},{"s":"3","x":82.0,"y":4.92},{"s":"3","x":82.7,"y":4.95},{"s":"3","x":82.1,"y":4.98},{"s":"3","x":83.3,"y":5.01},{"s":"3","x":83.1,"y":5.04},{"s":"3","x":83.1,"y":5.07},{"s":"3","x":84.2,"y":5.10},{"s":"3","x":83.7,"y":5.13},{"s":"3","x":83.6,"y":5.16},{"s":"3","x":84.7,"y":5.19},{"s":"3","x":84.6,"y":5.22},{"s":"3","x":85.6,"y":5.25},{"s":"3","x":84.9,"y":5.28},{"s":"3","x":85.7,"y":5.31},{"s":"3","x":85.2,"y":5.34},{"s":"3","x":86.5,"y":5.37},{"s":"3","x":86.4,"y":5.40},{"s":"3","x":86.4,"y":5.43},{"s":"3","x":87.4,"y":5.46},{"s":"3","x":87.0,"y":5.49},{"s":"3","x":86.8,"y":5.52},{"s":"3","x":87.9,"y":5.55},{"s":"3","x":87.6,"y":5.58},{"s":"3","x":88.5,"y":5.61},{"s":"3","x":87.6,"y":5.64},{"s":"3","x":88.3,"y":5.67},{"s":"3","x":87.7,"y":5.70},{"s":"3","x":88.9,"y":5.73},{"s":"3","x":88.7,"y":5.76},{"s":"3","x":88.5,"y":5.79},{"s":"3","x":89.5,"y":5.82},{"s":"3","x":88.9,"y":5.85},{"s":"3","x":88.7,"y":5.88},{"s":"3","x":89.7,"y":5.91},{"s":"3","x":89.5,"y":5.94},{"s":"3","x":90.3,"y":5.97},{"s":"3","x":89.5,"y":5.99},
      {"s":"3","x":66.6,"y":3.015},{"s":"3","x":66.4,"y":3.075},{"s":"3","x":67.7,"y":3.135},{"s":"3","x":67.5,"y":3.195},{"s":"3","x":68.0,"y":3.255},{"s":"3","x":67.9,"y":3.315},{"s":"3","x":69.4,"y":3.375},{"s":"3","x":69.2,"y":3.435},{"s":"3","x":70.2,"y":3.495},{"s":"3","x":70.6,"y":3.555},{"s":"3","x":71.8,"y":3.615},{"s":"3","x":71.7,"y":3.675},{"s":"3","x":73.0,"y":3.735},{"s":"3","x":72.9,"y":3.795},{"s":"3","x":74.4,"y":3.855},{"s":"3","x":74.4,"y":3.915},{"s":"3","x":75.1,"y":3.975},{"s":"3","x":75.1,"y":4.035},{"s":"3","x":76.5,"y":4.095},{"s":"3","x":76.3,"y":4.155},{"s":"3","x":77.3,"y":4.215},{"s":"3","x":77.5,"y":4.275},{"s":"3","x":78.4,"y":4.335},{"s":"3","x":78.0,"y":4.395},{"s":"3","x":79.0,"y":4.455},{"s":"3","x":78.8,"y":4.515},{"s":"3","x":80.3,"y":4.575},{"s":"3","x":80.3,"y":4.635},{"s":"3","x":81.1,"y":4.695},{"s":"3","x":81.1,"y":4.755},{"s":"3","x":82.3,"y":4.815},{"s":"3","x":81.9,"y":4.875},{"s":"3","x":82.7,"y":4.935},{"s":"3","x":82.7,"y":4.995},{"s":"3","x":83.7,"y":5.055},{"s":"3","x":83.5,"y":5.115},{"s":"3","x":84.6,"y":5.175},{"s":"3","x":84.5,"y":5.235},{"s":"3","x":85.9,"y":5.295},{"s":"3","x":85.9,"y":5.355},{"s":"3","x":86.6,"y":5.415},{"s":"3","x":86.6,"y":5.475},{"s":"3","x":87.9,"y":5.535},{"s":"3","x":87.5,"y":5.595},{"s":"3","x":88.3,"y":5.655},{"s":"3","x":88.4,"y":5.715},{"s":"3","x":89.2,"y":5.775},{"s":"3","x":88.7,"y":5.835},{"s":"3","x":89.6,"y":5.895},{"s":"3","x":89.3,"y":5.955}
    ],
    "bm": [
      {"s":"m1","x":74.0,"y":3.02},{"s":"m1","x":100.0,"y":5.85},
      {"s":"m2","x":69.4,"y":3.0},{"s":"m2","x":95.3,"y":6.0},
      {"s":"m3","x":65.5,"y":3.0},{"s":"m3","x":87.9,"y":5.74}
    ]
  },
  "hconcat": [
    {
      "width": 773,
      "height": 585,
      "title": {"text": "(a)", "orient": "bottom", "anchor": "middle", "font": "Liberation Serif", "fontSize": 58, "fontWeight": "normal", "color": "black", "offset": 78, "dx": 12},
      "layer": [
        {
          "data": {"name": "ap"},
          "mark": {"type": "point", "filled": false, "opacity": 1, "size": 200, "strokeWidth": 1.2},
          "encoding": {
            "x": {"field": "x", "type": "quantitative", "scale": {"domain": [55, 90], "nice": false, "zero": false}, "axis": {"orient": "bottom", "values": [55, 60, 65, 70, 75, 80, 85, 90], "format": "d", "title": "e'₁"}},
            "y": {"field": "y", "type": "quantitative", "scale": {"domain": [3, 6], "nice": false, "zero": false}, "axis": {"orient": "left", "values": [3, 3.5, 4, 4.5, 5, 5.5, 6], "format": ".1~f", "title": "dᵣ"}},
            "color": {
              "field": "s", "type": "nominal",
              "scale": {"domain": ["1", "2", "3", "m"], "range": ["#ff0000", "#00ff00", "#0000ff", "#7e2f8e"]},
              "legend": {
                "orient": "none", "legendX": 7, "legendY": 5, "title": null,
                "labelExpr": "datum.value === '1' ? '1st data set' : datum.value === '2' ? '2nd data set' : datum.value === '3' ? '3rd data set' : 'fitted model'"
              }
            },
            "shape": {
              "field": "s", "type": "nominal",
              "scale": {"domain": ["1", "2", "3", "m"], "range": ["M-0.25,0A0.25,0.25,0,1,1,0.25,0A0.25,0.25,0,1,1,-0.25,0ZM-0.12,0A0.12,0.12,0,1,1,0.12,0A0.12,0.12,0,1,1,-0.12,0Z", "M-1,0L1,0M0,-1L0,1", "circle", "M-5,-0.15L5,-0.15M-5,0L5,0M-5,0.15L5,0.15"]},
              "legend": {
                "orient": "none", "legendX": 7, "legendY": 5, "title": null,
                "labelExpr": "datum.value === '1' ? '1st data set' : datum.value === '2' ? '2nd data set' : datum.value === '3' ? '3rd data set' : 'fitted model'"
              }
            }
          }
        },
        {
          "data": {"name": "af"},
          "mark": {"type": "line", "strokeWidth": 4},
          "encoding": {
            "x": {"field": "x", "type": "quantitative", "axis": {"orient": "top", "labels": false, "title": null, "values": [55, 60, 65, 70, 75, 80, 85, 90]}},
            "y": {"field": "y", "type": "quantitative", "axis": {"orient": "right", "labels": false, "title": null, "values": [3, 3.5, 4, 4.5, 5, 5.5, 6]}},
            "color": {"field": "s", "type": "nominal"}
          }
        }
      ]
    },
    {
      "width": 773,
      "height": 585,
      "title": {"text": "(b)", "orient": "bottom", "anchor": "middle", "font": "Liberation Serif", "fontSize": 58, "fontWeight": "normal", "color": "black", "offset": 78, "dx": -50},
      "layer": [
        {
          "data": {"name": "bp"},
          "mark": {"type": "point", "filled": false, "opacity": 1, "size": 200, "strokeWidth": 1.2},
          "encoding": {
            "x": {"field": "x", "type": "quantitative", "scale": {"domain": [65, 100], "nice": false, "zero": false}, "axis": {"orient": "bottom", "values": [65, 70, 75, 80, 85, 90, 95, 100], "format": "d", "title": "e'₁"}},
            "y": {"field": "y", "type": "quantitative", "scale": {"domain": [3, 6], "nice": false, "zero": false}, "axis": {"orient": "left", "values": [3, 3.5, 4, 4.5, 5, 5.5, 6], "format": ".1~f", "title": "dᵣ"}},
            "color": {
              "field": "s", "type": "nominal",
              "scale": {"domain": ["1", "2", "3", "m1", "m2", "m3"], "range": ["#ff0000", "#00ff00", "#0000ff", "#ff0000", "#00ff00", "#0000ff"]},
              "legend": {
                "orient": "none", "legendX": 6, "legendY": 5, "title": null,
                "labelExpr": "datum.value === '1' ? '1st data set' : datum.value === '2' ? '2nd data set' : datum.value === '3' ? '3rd data set' : datum.value === 'm1' ? '1st data set model' : datum.value === 'm2' ? '2nd data set model' : '3rd data set model'"
              }
            },
            "shape": {
              "field": "s", "type": "nominal",
              "scale": {"domain": ["1", "2", "3", "m1", "m2", "m3"], "range": ["M-1,0L1,0M0,-1L0,1", "circle", "M-0.75,-0.75L0.75,0.75M-0.75,0.75L0.75,-0.75", "M-5,-0.15L5,-0.15M-5,0L5,0M-5,0.15L5,0.15", "M-5,-0.15L5,-0.15M-5,0L5,0M-5,0.15L5,0.15", "M-5,-0.15L5,-0.15M-5,0L5,0M-5,0.15L5,0.15"]},
              "legend": {
                "orient": "none", "legendX": 6, "legendY": 5, "title": null,
                "labelExpr": "datum.value === '1' ? '1st data set' : datum.value === '2' ? '2nd data set' : datum.value === '3' ? '3rd data set' : datum.value === 'm1' ? '1st data set model' : datum.value === 'm2' ? '2nd data set model' : '3rd data set model'"
              }
            },
            "strokeDash": {
              "field": "s", "type": "nominal",
              "scale": {"domain": ["1", "2", "3", "m1", "m2", "m3"], "range": [[1, 0], [1, 0], [1, 0], [19, 15], [14, 5, 4, 5], [1, 0]]},
              "legend": {
                "orient": "none", "legendX": 6, "legendY": 5, "title": null,
                "labelExpr": "datum.value === '1' ? '1st data set' : datum.value === '2' ? '2nd data set' : datum.value === '3' ? '3rd data set' : datum.value === 'm1' ? '1st data set model' : datum.value === 'm2' ? '2nd data set model' : '3rd data set model'"
              }
            }
          }
        },
        {
          "data": {"name": "bm"},
          "mark": {"type": "line", "strokeWidth": 4},
          "encoding": {
            "x": {"field": "x", "type": "quantitative", "axis": {"orient": "top", "labels": false, "title": null, "values": [65, 70, 75, 80, 85, 90, 95, 100]}},
            "y": {"field": "y", "type": "quantitative", "axis": {"orient": "right", "labels": false, "title": null, "values": [3, 3.5, 4, 4.5, 5, 5.5, 6]}},
            "color": {"field": "s", "type": "nominal"},
            "strokeDash": {"field": "s", "type": "nominal"}
          }
        }
      ]
    }
  ],
  "config": {
    "view": {"stroke": null},
    "axis": {
      "labelFont": "Liberation Sans", "labelFontSize": 26, "labelColor": "#262626",
      "titleFont": "Liberation Sans", "titleFontSize": 26, "titleFontWeight": "normal", "titleColor": "#262626",
      "domainColor": "#8c8c8c", "domainWidth": 2, "tickColor": "#8c8c8c", "tickWidth": 2, "tickSize": -9,
      "grid": false, "labelFlush": false, "labelOverlap": false
    },
    "axisBottom": {"labelPadding": 27, "titlePadding": 15},
    "axisLeft": {"labelPadding": 19, "titlePadding": 26},
    "legend": {
      "labelFont": "Liberation Sans", "labelFontSize": 25, "labelColor": "black", "labelLimit": 400,
      "strokeColor": "#6e6e6e", "fillColor": "white", "padding": 8,
      "symbolSize": 200, "symbolOffset": 24, "labelOffset": 36, "rowPadding": 8,
      "symbolStrokeWidth": 1.3, "symbolFillColor": "transparent"
    }
  }
}
